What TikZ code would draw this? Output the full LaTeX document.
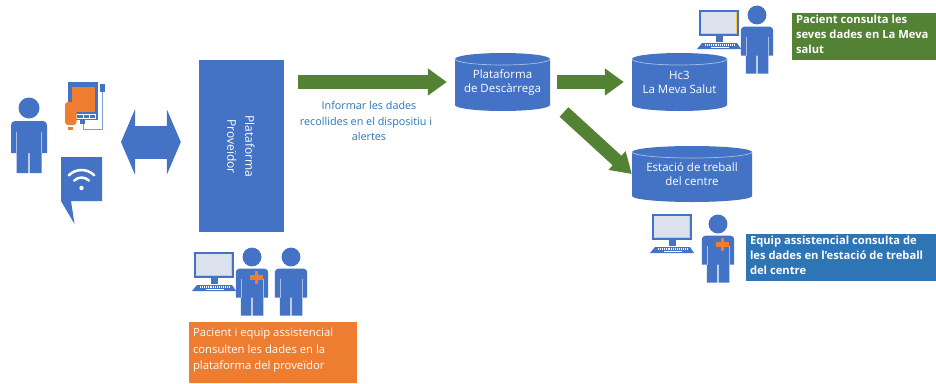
\documentclass[tikz,border=0pt]{standalone}
\usepackage{fontspec}
\setmainfont{Open Sans}
\usetikzlibrary{arrows.meta}
\definecolor{bl}{HTML}{4472C4}
\definecolor{rim}{HTML}{A9BFE6}
\definecolor{gr}{HTML}{548235}
\definecolor{og}{HTML}{ED7D31}
\definecolor{lb}{HTML}{2E75B6}
\definecolor{scr}{HTML}{DCE1EE}
\definecolor{ye}{HTML}{FFC84A}
\definecolor{cap}{HTML}{2E75B6}
\tikzset{
  x=1pt,y=-1pt,
  greenarrow/.style={draw=gr,line width=13.5pt,-{Triangle[length=19pt,width=26pt]}},
  bluearrow/.style={draw=bl,line width=33pt,{Triangle[length=14pt,width=65pt]}-{Triangle[length=14pt,width=65pt]}},
  cyltext/.style={text=white,align=center,font=\fontsize{11.5}{14}\selectfont,inner sep=0pt},
  notebox/.style={text=white,align=left,anchor=north west,inner sep=0pt,outer sep=0pt,text depth=0pt},
  notefont/.style={font=\fontsize{11.2}{15}\selectfont\bfseries},
}
\newcommand{\cyl}[6]{% name x1 y1 x2 y2 text
  \fill[bl] (#2,#3+6) arc[x radius={(#4-#2)/2},y radius=6,start angle=180,end angle=360] -- (#4,#5-6)
     arc[x radius={(#4-#2)/2},y radius=6,start angle=0,end angle=180] -- cycle;
  \draw[rim,line width=.7pt] (#2,#3+6) arc[x radius={(#4-#2)/2},y radius=6,start angle=180,end angle=0];
  \node[cyltext,minimum width=#4-#2,minimum height=#5-#3] (#1) at ({(#2+#4)/2},{(#3+#5)/2}) {#6};
}
\newcommand{\person}[4]{% head x, y, scale, doctor flag
  \begin{scope}[shift={(#1,#2)},scale=#3]
    \fill[bl] (0,0) circle[radius=10.5];
    \fill[bl] (-18,45) -- (-18,17) arc[radius=4,start angle=180,end angle=270] -- (14,13) arc[radius=4,start angle=270,end angle=360] -- (18,45) -- (12.5,45) -- (12.5,65) -- (.6,65) -- (.6,45) -- (-.6,45) -- (-.6,65) -- (-12.5,65) -- (-12.5,45) -- cycle;
    \draw[rim,line width=.5pt] (-12.5,24) -- (-12.5,45) (12.5,24) -- (12.5,45);
    \ifnum#4=1
      \fill[og] (-2,20.5) rectangle (12,25);
      \fill[og] (2.8,16) rectangle (7.2,30);
    \fi
  \end{scope}
}
\newcommand{\computer}[2]{% top left of monitor
  \begin{scope}[shift={(#1,#2)}]
    \fill[bl] (0,0) rectangle (40,26);
    \fill[scr] (2,2) rectangle (38,24);
    \fill[ye] (37,2) rectangle (38.2,24);
    \fill[ye] (2,23.2) rectangle (38,24.2);
    \fill[bl] (17,26) rectangle (24,32);
    \fill[bl] (3,33) -- (38,33) -- (42,39) -- (-2,39) -- cycle;
    \draw[white,line width=1.2pt,dash pattern=on 1pt off .9pt] (6,35) -- (35,35);
    \draw[white,line width=.9pt] (12,37.5) -- (30,37.5);
  \end{scope}
}
\begin{document}
\begin{tikzpicture}
\useasboundingbox (0,0) rectangle (936,383);
\fill[white] (0,0) rectangle (936,383);
% patient
\person{29}{108}{1}{0}
% device
\fill[bl] (68,82) rectangle (98,120);
\fill[og] (72,87) rectangle (95,112);
\draw[white,line width=.5pt] (76,114.5) rectangle (95,118.5);
\draw[white,line width=.5pt] (83,114.5) -- (83,118.5) (89,114.5) -- (89,118.5);
\draw[bl!70,line width=.8pt] (102,92) -- (102,129) -- (83,129) -- (83,122);
\fill[bl] (99.5,84) rectangle (104.5,92);
\fill[bl] (80,120) rectangle (85,124);
\fill[og,rounded corners=3pt] (65,102) rectangle (76.5,125);
\fill[og] (68,127) rectangle (73,130);
% wifi bubble
\fill[bl] (61,157) -- (102,157) -- (102,201) -- (71,201) -- (74.5,224) -- (61,201) -- cycle;
\draw[white,line width=2.5pt,line cap=round] (68.8,175.3) arc[radius=18,start angle=225,end angle=315];
\draw[white,line width=2.5pt,line cap=round] (74.1,180.6) arc[radius=10.5,start angle=225,end angle=315];
\fill[white] (81.5,188) circle[radius=2.2];
% proveidor
\node[fill=bl,minimum width=85pt,minimum height=172pt,inner sep=0pt] (prov) at (241.5,146) {};
\node[text=white,rotate=-90,align=center,font=\fontsize{12}{18}\selectfont] (provt) at (241,146.5) {Plataforma\\Proveïdor};
% cylinders
\cyl{desc}{455}{53}{550}{111}{Plataforma\\de Descàrrega}
\cyl{hc}{632}{53}{727}{111}{Hc3\\La Meva Salut}
\cyl{est}{632}{146}{752}{202}{Estació de treball\\del centre}
% connectors
\coordinate (dev) at (121,142);
\draw[bluearrow,shorten >=18pt] (dev) -- (prov.west |- dev);
\draw[greenarrow,shorten <=14pt,shorten >=8pt] (prov.east |- desc.west) -- (desc.west);
\draw[greenarrow,shorten <=7pt,shorten >=8pt] (desc.east) -- (hc.west);
\coordinate (diagtail) at (564,112);
\draw[draw=gr,line width=13pt,-{Triangle[length=20pt,width=24pt]}] (diagtail) -- (est.west);
% caption
\node[text=cap,align=center,font=\fontsize{10.8}{15.5}\selectfont,inner sep=0pt] (cap) at (369,121) {Informar les dades\\\hspace*{-6pt}recollides en el dispositiu i\\alertes};
% users
\computer{194}{252}
\person{252}{257}{.9}{1}
\person{291}{257}{.9}{0}
\computer{699}{10}
\person{757}{15}{.9}{0}
\computer{652}{214}
\person{718}{224}{.9}{1}
% notes
\fill[gr] (792,13) rectangle (936,60);
\node[notebox,notefont] (n1) at (796,14.5) {Pacient consulta les\\seves dades en La Meva\\salut};
\fill[lb] (746,234) rectangle (936,281);
\node[notebox,notefont] (n2) at (750,235.5) {Equip assistencial consulta de\\les dades en l’estació de treball\\del centre};
\fill[og] (189,322) rectangle (357,383);
\node[notebox,font=\fontsize{11.3}{16.5}\selectfont] (n3) at (193,328) {Pacient i equip assistencial\\consulten les dades en la\\plataforma del proveïdor};
\end{tikzpicture}
\end{document}
